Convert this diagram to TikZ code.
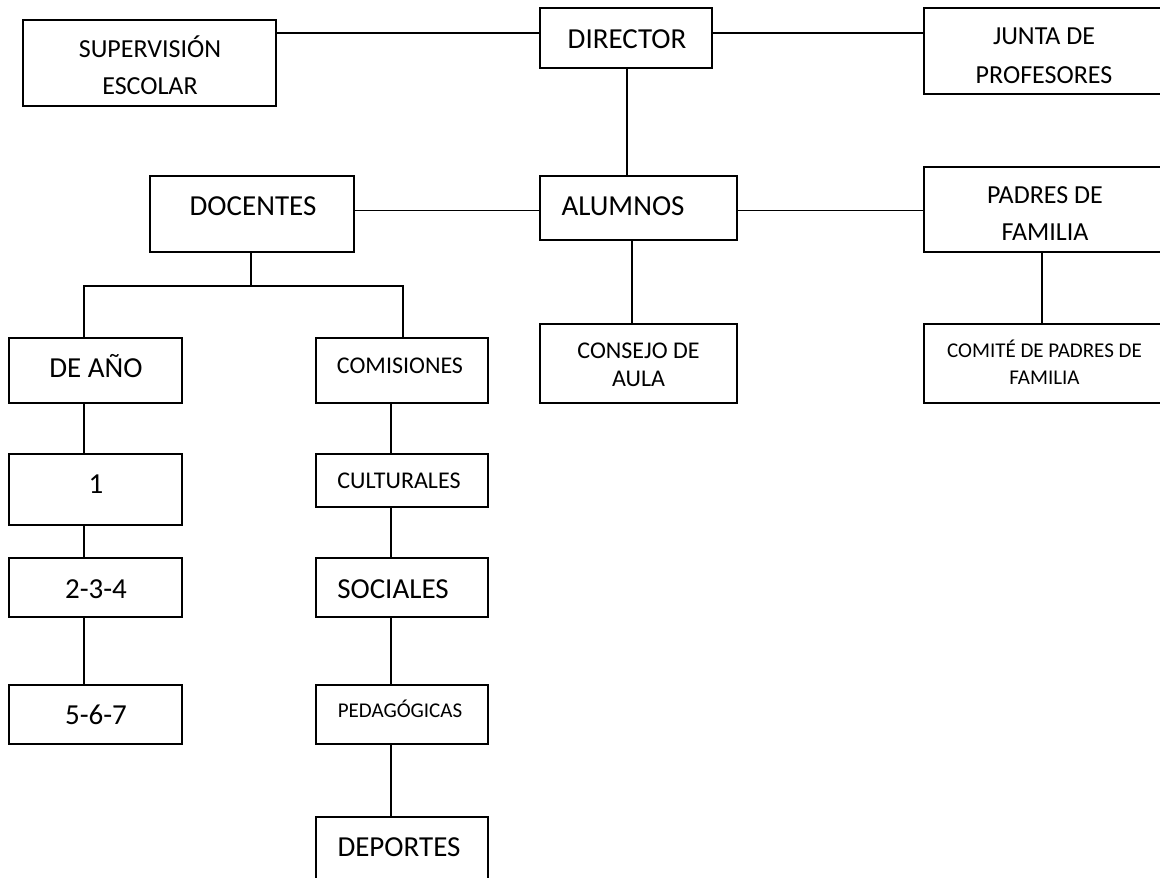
\documentclass[tikz,border=0pt]{standalone}
\usepackage{fontspec}
\setmainfont{Carlito}
\begin{document}
\begin{tikzpicture}[x=1pt,y=-1pt,
  box/.style={draw=black,line width=1.6pt,rectangle,inner sep=0pt},
  conn/.style={draw=black,line width=1.6pt},
  txt/.style={anchor=base,inner sep=0pt,text=black},
  fA/.style={font=\fontsize{29}{34}\selectfont},
  fB/.style={font=\fontsize{26}{31}\selectfont},
  fC/.style={font=\fontsize{24}{28}\selectfont},
  fD/.style={font=\fontsize{21}{25}\selectfont}]
\useasboundingbox (0,0) rectangle (1160,878);
\clip (0,0) rectangle (1160,878);
% boxes
\node[box,minimum width=253pt,minimum height=86pt] (sup) at (149.5,63) {};
\node[box,minimum width=172pt,minimum height=60pt] (dir) at (626,38) {};
\node[box,minimum width=251pt,minimum height=86pt] (jun) at (1049.5,51) {};
\node[box,minimum width=204pt,minimum height=76pt] (doc) at (252,214) {};
\node[box,minimum width=197pt,minimum height=64pt] (alu) at (638.5,208) {};
\node[box,minimum width=251pt,minimum height=85pt] (pad) at (1049.5,209.5) {};
\node[box,minimum width=197pt,minimum height=79pt] (con) at (638.5,363.5) {};
\node[box,minimum width=251pt,minimum height=79pt] (com) at (1049.5,363.5) {};
\node[box,minimum width=173pt,minimum height=65pt] (ano) at (95.5,370.5) {};
\node[box,minimum width=173pt,minimum height=71pt] (uno) at (95.5,489.5) {};
\node[box,minimum width=173pt,minimum height=59pt] (dos) at (95.5,587.5) {};
\node[box,minimum width=173pt,minimum height=59pt] (cin) at (95.5,714.5) {};
\node[box,minimum width=172pt,minimum height=65pt] (cms) at (402,370.5) {};
\node[box,minimum width=172pt,minimum height=53pt] (cul) at (402,480.5) {};
\node[box,minimum width=172pt,minimum height=59pt] (soc) at (402,587.5) {};
\node[box,minimum width=172pt,minimum height=59pt] (ped) at (402,714.5) {};
\node[box,minimum width=172pt,minimum height=83pt] (dep) at (402,858.5) {};
% texts
\node[txt,fB] at (150,57) {SUPERVISIÓN};
\node[txt,fB] at (150,94) {ESCOLAR};
\node[txt,fA] at (627,48) {DIRECTOR};
\node[txt,fB] at (1044,45) {JUNTA DE};
\node[txt,fB] at (1044,83) {PROFESORES};
\node[txt,fA] at (623,215) {ALUMNOS};
\node[txt,fA] at (253,215) {DOCENTES};
\node[txt,fB] at (1045,203) {PADRES DE};
\node[txt,fB] at (1045,240) {FAMILIA};
\node[txt,fC] at (638.5,358) {CONSEJO DE};
\node[txt,fC] at (638.5,386) {AULA};
\node[txt,fD] at (1044.5,357) {COMITÉ DE PADRES DE};
\node[txt,fD] at (1044.5,384) {FAMILIA};
\node[txt,fA] at (96,377) {DE AÑO};
\node[txt,fA] at (96,493) {1};
\node[txt,fA] at (96,598) {2-3-4};
\node[txt,fA] at (96,724) {5-6-7};
\node[txt,fC] at (400,373) {COMISIONES};
\node[txt,fC] at (399,488) {CULTURALES};
\node[txt,fA] at (393,598) {SOCIALES};
\node[txt,fD] at (400,717) {PEDAGÓGICAS};
\node[txt,fA] at (399,856) {DEPORTES};
% helper coordinates
\coordinate (ytop) at (0,33);
\coordinate (ymid) at (0,210.5);
\coordinate (xdir) at (627,0);
\coordinate (xalu) at (632,0);
\coordinate (xpad) at (1042,0);
\coordinate (xdoc) at (251,0);
\coordinate (ybar) at (0,286);
\coordinate (xl) at (84,0);
\coordinate (xr) at (403,0);
\coordinate (xc) at (391,0);
% connectors
\draw[conn] (sup.east |- ytop) -- (dir.west |- ytop);
\draw[conn] (dir.east |- ytop) -- (jun.west |- ytop);
\draw[conn] (dir.south -| xdir) -- (alu.north -| xdir);
\draw[conn] (doc.east |- ymid) -- (alu.west |- ymid);
\draw[conn] (alu.east |- ymid) -- (pad.west |- ymid);
\draw[conn] (alu.south -| xalu) -- (con.north -| xalu);
\draw[conn] (pad.south -| xpad) -- (com.north -| xpad);
\draw[conn] (doc.south -| xdoc) -- (xdoc |- ybar);
\draw[conn] (ano.north -| xl) -- (xl |- ybar) -- (xr |- ybar) -- (cms.north -| xr);
\draw[conn] (ano.south -| xl) -- (uno.north -| xl);
\draw[conn] (uno.south -| xl) -- (dos.north -| xl);
\draw[conn] (dos.south -| xl) -- (cin.north -| xl);
\draw[conn] (cms.south -| xc) -- (cul.north -| xc);
\draw[conn] (cul.south -| xc) -- (soc.north -| xc);
\draw[conn] (soc.south -| xc) -- (ped.north -| xc);
\draw[conn] (ped.south -| xc) -- (dep.north -| xc);
\end{tikzpicture}
\end{document}
